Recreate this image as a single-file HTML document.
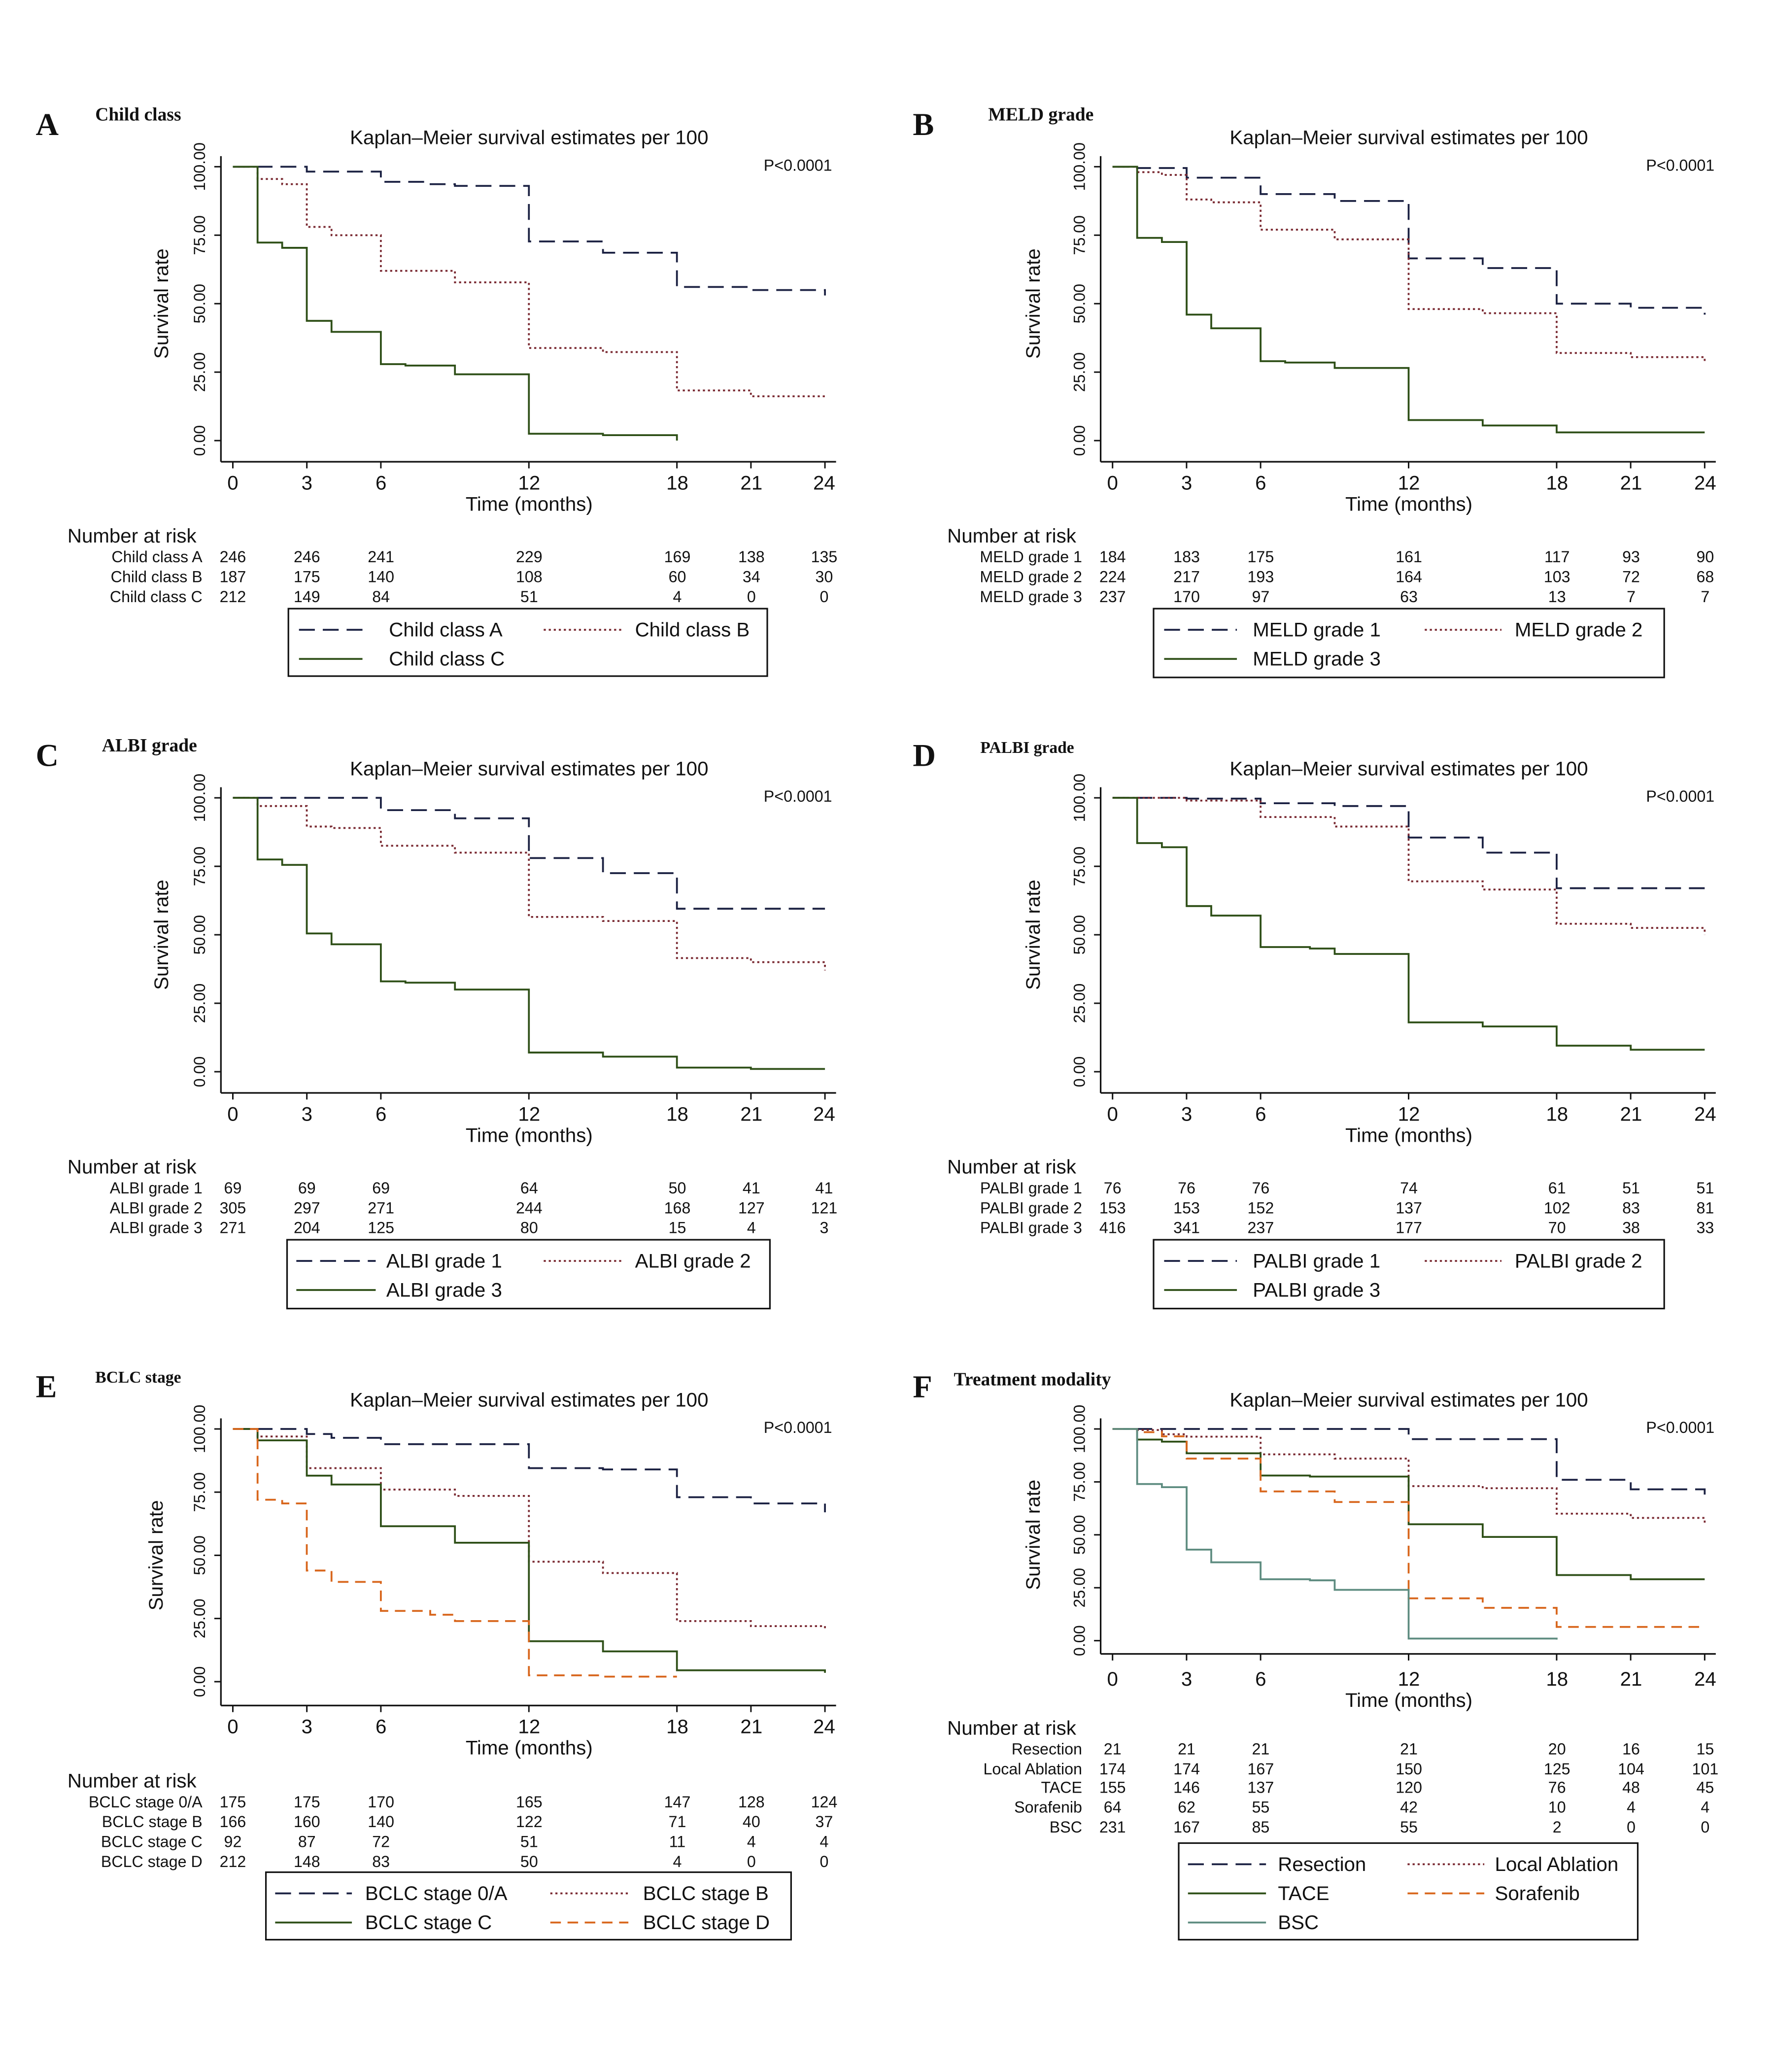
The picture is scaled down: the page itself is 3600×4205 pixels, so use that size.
<!DOCTYPE html>
<html><head><meta charset="utf-8"><style>
html,body{margin:0;padding:0;background:#fff}
svg{display:block}
text{font-family:"Liberation Sans",Arial,sans-serif;fill:#111}
.t{font-size:15px}
.s{font-size:12px}
.n{font-size:12px;text-anchor:middle}
.r{font-size:12px;text-anchor:end}
.m{text-anchor:middle}
.L{font-family:"Liberation Serif",serif;font-weight:bold;font-size:24px}
.H{font-family:"Liberation Serif",serif;font-weight:bold;font-size:14px}
</style></head><body>
<svg id="sv" width="3600" height="4205" viewBox="0 0 1341 1566" preserveAspectRatio="none" xmlns="http://www.w3.org/2000/svg">
<rect width="1341" height="1566" fill="#fff"/>
<g id="g"></g>
<!-- headings -->
<text class="L" x="27" y="102">A</text><text class="H" x="72" y="91">Child class</text>
<text class="L" x="690" y="102">B</text><text class="H" x="747" y="91">MELD grade</text>
<text class="L" x="27" y="579">C</text><text class="H" x="77" y="568">ALBI grade</text>
<text class="L" x="690" y="579">D</text><text class="H" x="741" y="569" style="font-size:12.5px">PALBI grade</text>
<text class="L" x="27" y="1056">E</text><text class="H" x="72" y="1045" style="font-size:12.5px">BCLC stage</text>
<text class="L" x="690" y="1056">F</text><text class="H" x="721" y="1047">Treatment modality</text>

<!-- Panel A -->
<text class="t m" x="400" y="109">Kaplan–Meier survival estimates per 100</text>
<text class="s" x="629" y="129" text-anchor="end">P&lt;0.0001</text>
<text class="s m" transform="translate(155,126) rotate(-90)">100.00</text>
<text class="s m" transform="translate(155,177.75) rotate(-90)">75.00</text>
<text class="s m" transform="translate(155,229.5) rotate(-90)">50.00</text>
<text class="s m" transform="translate(155,281.25) rotate(-90)">25.00</text>
<text class="s m" transform="translate(155,333) rotate(-90)">0.00</text>
<text class="t m" transform="translate(127,229.5) rotate(-90)">Survival rate</text>
<g class="t m"><text class="t m" x="176" y="370">0</text><text class="t m" x="232" y="370">3</text><text class="t m" x="288" y="370">6</text><text class="t m" x="400" y="370">12</text><text class="t m" x="512" y="370">18</text><text class="t m" x="568" y="370">21</text><text class="t m" x="623" y="370">24</text></g>
<text class="t m" x="400" y="386">Time (months)</text>
<text class="t" x="51" y="410">Number at risk</text>
<text class="r" x="153" y="425">Child class A</text><text class="r" x="153" y="440">Child class B</text><text class="r" x="153" y="455">Child class C</text>

<!-- Panel B -->
<text class="t m" x="1065" y="109">Kaplan–Meier survival estimates per 100</text>
<text class="s" x="1296" y="129" text-anchor="end">P&lt;0.0001</text>
<text class="s m" transform="translate(820,126) rotate(-90)">100.00</text>
<text class="s m" transform="translate(820,177.75) rotate(-90)">75.00</text>
<text class="s m" transform="translate(820,229.5) rotate(-90)">50.00</text>
<text class="s m" transform="translate(820,281.25) rotate(-90)">25.00</text>
<text class="s m" transform="translate(820,333) rotate(-90)">0.00</text>
<text class="t m" transform="translate(786,229.5) rotate(-90)">Survival rate</text>
<text class="t m" x="841" y="370">0</text><text class="t m" x="897" y="370">3</text><text class="t m" x="953" y="370">6</text><text class="t m" x="1065" y="370">12</text><text class="t m" x="1177" y="370">18</text><text class="t m" x="1233" y="370">21</text><text class="t m" x="1289" y="370">24</text>
<text class="t m" x="1065" y="386">Time (months)</text>
<text class="t" x="716" y="410">Number at risk</text>
<text class="r" x="818" y="425">MELD grade 1</text><text class="r" x="818" y="440">MELD grade 2</text><text class="r" x="818" y="455">MELD grade 3</text>

<!-- Panel C -->
<text class="t m" x="400" y="586">Kaplan–Meier survival estimates per 100</text>
<text class="s" x="629" y="606" text-anchor="end">P&lt;0.0001</text>
<text class="s m" transform="translate(155,603) rotate(-90)">100.00</text>
<text class="s m" transform="translate(155,654.75) rotate(-90)">75.00</text>
<text class="s m" transform="translate(155,706.5) rotate(-90)">50.00</text>
<text class="s m" transform="translate(155,758.25) rotate(-90)">25.00</text>
<text class="s m" transform="translate(155,810) rotate(-90)">0.00</text>
<text class="t m" transform="translate(127,706.5) rotate(-90)">Survival rate</text>
<text class="t m" x="176" y="847">0</text><text class="t m" x="232" y="847">3</text><text class="t m" x="288" y="847">6</text><text class="t m" x="400" y="847">12</text><text class="t m" x="512" y="847">18</text><text class="t m" x="568" y="847">21</text><text class="t m" x="623" y="847">24</text>
<text class="t m" x="400" y="863">Time (months)</text>
<text class="t" x="51" y="887">Number at risk</text>
<text class="r" x="153" y="902">ALBI grade 1</text><text class="r" x="153" y="917">ALBI grade 2</text><text class="r" x="153" y="932">ALBI grade 3</text>

<!-- Panel D -->
<text class="t m" x="1065" y="586">Kaplan–Meier survival estimates per 100</text>
<text class="s" x="1296" y="606" text-anchor="end">P&lt;0.0001</text>
<text class="s m" transform="translate(820,603) rotate(-90)">100.00</text>
<text class="s m" transform="translate(820,654.75) rotate(-90)">75.00</text>
<text class="s m" transform="translate(820,706.5) rotate(-90)">50.00</text>
<text class="s m" transform="translate(820,758.25) rotate(-90)">25.00</text>
<text class="s m" transform="translate(820,810) rotate(-90)">0.00</text>
<text class="t m" transform="translate(786,706.5) rotate(-90)">Survival rate</text>
<text class="t m" x="841" y="847">0</text><text class="t m" x="897" y="847">3</text><text class="t m" x="953" y="847">6</text><text class="t m" x="1065" y="847">12</text><text class="t m" x="1177" y="847">18</text><text class="t m" x="1233" y="847">21</text><text class="t m" x="1289" y="847">24</text>
<text class="t m" x="1065" y="863">Time (months)</text>
<text class="t" x="716" y="887">Number at risk</text>
<text class="r" x="818" y="902">PALBI grade 1</text><text class="r" x="818" y="917">PALBI grade 2</text><text class="r" x="818" y="932">PALBI grade 3</text>

<!-- Panel E -->
<text class="t m" x="400" y="1063">Kaplan–Meier survival estimates per 100</text>
<text class="s" x="629" y="1083" text-anchor="end">P&lt;0.0001</text>
<text class="s m" transform="translate(155,1080) rotate(-90)">100.00</text>
<text class="s m" transform="translate(155,1127.75) rotate(-90)">75.00</text>
<text class="s m" transform="translate(155,1175.5) rotate(-90)">50.00</text>
<text class="s m" transform="translate(155,1223.25) rotate(-90)">25.00</text>
<text class="s m" transform="translate(155,1271) rotate(-90)">0.00</text>
<text class="t m" transform="translate(123,1175.5) rotate(-90)">Survival rate</text>
<text class="t m" x="176" y="1310">0</text><text class="t m" x="232" y="1310">3</text><text class="t m" x="288" y="1310">6</text><text class="t m" x="400" y="1310">12</text><text class="t m" x="512" y="1310">18</text><text class="t m" x="568" y="1310">21</text><text class="t m" x="623" y="1310">24</text>
<text class="t m" x="400" y="1326">Time (months)</text>
<text class="t" x="51" y="1351">Number at risk</text>
<text class="r" x="153" y="1366">BCLC stage 0/A</text><text class="r" x="153" y="1381">BCLC stage B</text><text class="r" x="153" y="1396">BCLC stage C</text><text class="r" x="153" y="1411">BCLC stage D</text>

<!-- Panel F -->
<text class="t m" x="1065" y="1063">Kaplan–Meier survival estimates per 100</text>
<text class="s" x="1296" y="1083" text-anchor="end">P&lt;0.0001</text>
<text class="s m" transform="translate(820,1080) rotate(-90)">100.00</text>
<text class="s m" transform="translate(820,1120) rotate(-90)">75.00</text>
<text class="s m" transform="translate(820,1160) rotate(-90)">50.00</text>
<text class="s m" transform="translate(820,1200) rotate(-90)">25.00</text>
<text class="s m" transform="translate(820,1240) rotate(-90)">0.00</text>
<text class="t m" transform="translate(786,1160) rotate(-90)">Survival rate</text>
<text class="t m" x="841" y="1274">0</text><text class="t m" x="897" y="1274">3</text><text class="t m" x="953" y="1274">6</text><text class="t m" x="1065" y="1274">12</text><text class="t m" x="1177" y="1274">18</text><text class="t m" x="1233" y="1274">21</text><text class="t m" x="1289" y="1274">24</text>
<text class="t m" x="1065" y="1290">Time (months)</text>
<text class="t" x="716" y="1311">Number at risk</text>
<text class="r" x="818" y="1326">Resection</text><text class="r" x="818" y="1341">Local Ablation</text><text class="r" x="818" y="1355">TACE</text><text class="r" x="818" y="1370">Sorafenib</text><text class="r" x="818" y="1385">BSC</text>

<!-- risk numbers A -->
<g>
<text class="n" x="176" y="425">246</text><text class="n" x="232" y="425">246</text><text class="n" x="288" y="425">241</text><text class="n" x="400" y="425">229</text><text class="n" x="512" y="425">169</text><text class="n" x="568" y="425">138</text><text class="n" x="623" y="425">135</text>
<text class="n" x="176" y="440">187</text><text class="n" x="232" y="440">175</text><text class="n" x="288" y="440">140</text><text class="n" x="400" y="440">108</text><text class="n" x="512" y="440">60</text><text class="n" x="568" y="440">34</text><text class="n" x="623" y="440">30</text>
<text class="n" x="176" y="455">212</text><text class="n" x="232" y="455">149</text><text class="n" x="288" y="455">84</text><text class="n" x="400" y="455">51</text><text class="n" x="512" y="455">4</text><text class="n" x="568" y="455">0</text><text class="n" x="623" y="455">0</text>
</g>
<!-- B -->
<g>
<text class="n" x="841" y="425">184</text><text class="n" x="897" y="425">183</text><text class="n" x="953" y="425">175</text><text class="n" x="1065" y="425">161</text><text class="n" x="1177" y="425">117</text><text class="n" x="1233" y="425">93</text><text class="n" x="1289" y="425">90</text>
<text class="n" x="841" y="440">224</text><text class="n" x="897" y="440">217</text><text class="n" x="953" y="440">193</text><text class="n" x="1065" y="440">164</text><text class="n" x="1177" y="440">103</text><text class="n" x="1233" y="440">72</text><text class="n" x="1289" y="440">68</text>
<text class="n" x="841" y="455">237</text><text class="n" x="897" y="455">170</text><text class="n" x="953" y="455">97</text><text class="n" x="1065" y="455">63</text><text class="n" x="1177" y="455">13</text><text class="n" x="1233" y="455">7</text><text class="n" x="1289" y="455">7</text>
</g>
<!-- C -->
<g>
<text class="n" x="176" y="902">69</text><text class="n" x="232" y="902">69</text><text class="n" x="288" y="902">69</text><text class="n" x="400" y="902">64</text><text class="n" x="512" y="902">50</text><text class="n" x="568" y="902">41</text><text class="n" x="623" y="902">41</text>
<text class="n" x="176" y="917">305</text><text class="n" x="232" y="917">297</text><text class="n" x="288" y="917">271</text><text class="n" x="400" y="917">244</text><text class="n" x="512" y="917">168</text><text class="n" x="568" y="917">127</text><text class="n" x="623" y="917">121</text>
<text class="n" x="176" y="932">271</text><text class="n" x="232" y="932">204</text><text class="n" x="288" y="932">125</text><text class="n" x="400" y="932">80</text><text class="n" x="512" y="932">15</text><text class="n" x="568" y="932">4</text><text class="n" x="623" y="932">3</text>
</g>
<!-- D -->
<g>
<text class="n" x="841" y="902">76</text><text class="n" x="897" y="902">76</text><text class="n" x="953" y="902">76</text><text class="n" x="1065" y="902">74</text><text class="n" x="1177" y="902">61</text><text class="n" x="1233" y="902">51</text><text class="n" x="1289" y="902">51</text>
<text class="n" x="841" y="917">153</text><text class="n" x="897" y="917">153</text><text class="n" x="953" y="917">152</text><text class="n" x="1065" y="917">137</text><text class="n" x="1177" y="917">102</text><text class="n" x="1233" y="917">83</text><text class="n" x="1289" y="917">81</text>
<text class="n" x="841" y="932">416</text><text class="n" x="897" y="932">341</text><text class="n" x="953" y="932">237</text><text class="n" x="1065" y="932">177</text><text class="n" x="1177" y="932">70</text><text class="n" x="1233" y="932">38</text><text class="n" x="1289" y="932">33</text>
</g>
<!-- E -->
<g>
<text class="n" x="176" y="1366">175</text><text class="n" x="232" y="1366">175</text><text class="n" x="288" y="1366">170</text><text class="n" x="400" y="1366">165</text><text class="n" x="512" y="1366">147</text><text class="n" x="568" y="1366">128</text><text class="n" x="623" y="1366">124</text>
<text class="n" x="176" y="1381">166</text><text class="n" x="232" y="1381">160</text><text class="n" x="288" y="1381">140</text><text class="n" x="400" y="1381">122</text><text class="n" x="512" y="1381">71</text><text class="n" x="568" y="1381">40</text><text class="n" x="623" y="1381">37</text>
<text class="n" x="176" y="1396">92</text><text class="n" x="232" y="1396">87</text><text class="n" x="288" y="1396">72</text><text class="n" x="400" y="1396">51</text><text class="n" x="512" y="1396">11</text><text class="n" x="568" y="1396">4</text><text class="n" x="623" y="1396">4</text>
<text class="n" x="176" y="1411">212</text><text class="n" x="232" y="1411">148</text><text class="n" x="288" y="1411">83</text><text class="n" x="400" y="1411">50</text><text class="n" x="512" y="1411">4</text><text class="n" x="568" y="1411">0</text><text class="n" x="623" y="1411">0</text>
</g>
<!-- F -->
<g>
<text class="n" x="841" y="1326">21</text><text class="n" x="897" y="1326">21</text><text class="n" x="953" y="1326">21</text><text class="n" x="1065" y="1326">21</text><text class="n" x="1177" y="1326">20</text><text class="n" x="1233" y="1326">16</text><text class="n" x="1289" y="1326">15</text>
<text class="n" x="841" y="1341">174</text><text class="n" x="897" y="1341">174</text><text class="n" x="953" y="1341">167</text><text class="n" x="1065" y="1341">150</text><text class="n" x="1177" y="1341">125</text><text class="n" x="1233" y="1341">104</text><text class="n" x="1289" y="1341">101</text>
<text class="n" x="841" y="1355">155</text><text class="n" x="897" y="1355">146</text><text class="n" x="953" y="1355">137</text><text class="n" x="1065" y="1355">120</text><text class="n" x="1177" y="1355">76</text><text class="n" x="1233" y="1355">48</text><text class="n" x="1289" y="1355">45</text>
<text class="n" x="841" y="1370">64</text><text class="n" x="897" y="1370">62</text><text class="n" x="953" y="1370">55</text><text class="n" x="1065" y="1370">42</text><text class="n" x="1177" y="1370">10</text><text class="n" x="1233" y="1370">4</text><text class="n" x="1289" y="1370">4</text>
<text class="n" x="841" y="1385">231</text><text class="n" x="897" y="1385">167</text><text class="n" x="953" y="1385">85</text><text class="n" x="1065" y="1385">55</text><text class="n" x="1177" y="1385">2</text><text class="n" x="1233" y="1385">0</text><text class="n" x="1289" y="1385">0</text>
</g>

<!-- legends -->
<g fill="none" stroke="#111" stroke-width="1.2">
<rect x="218" y="460" width="362" height="51"/>
<rect x="872" y="460" width="386" height="52"/>
<rect x="217" y="937" width="365" height="52"/>
<rect x="872" y="937" width="386" height="52"/>
<rect x="201" y="1415" width="397" height="51"/>
<rect x="891" y="1393" width="347" height="73"/>
</g>
<g class="t">
<text class="t" x="294" y="481">Child class A</text><text class="t" x="480" y="481">Child class B</text><text class="t" x="294" y="503">Child class C</text>
<text class="t" x="947" y="481">MELD grade 1</text><text class="t" x="1145" y="481">MELD grade 2</text><text class="t" x="947" y="503">MELD grade 3</text>
<text class="t" x="292" y="958">ALBI grade 1</text><text class="t" x="480" y="958">ALBI grade 2</text><text class="t" x="292" y="980">ALBI grade 3</text>
<text class="t" x="947" y="958">PALBI grade 1</text><text class="t" x="1145" y="958">PALBI grade 2</text><text class="t" x="947" y="980">PALBI grade 3</text>
<text class="t" x="276" y="1436">BCLC stage 0/A</text><text class="t" x="486" y="1436">BCLC stage B</text><text class="t" x="276" y="1458">BCLC stage C</text><text class="t" x="486" y="1458">BCLC stage D</text>
<text class="t" x="966" y="1414">Resection</text><text class="t" x="1130" y="1414">Local Ablation</text><text class="t" x="966" y="1436">TACE</text><text class="t" x="1130" y="1436">Sorafenib</text><text class="t" x="966" y="1458">BSC</text>
</g>
</svg>
<script>
var NS="http://www.w3.org/2000/svg",G=document.getElementById("g");
function el(t,a){var e=document.createElementNS(NS,t);for(var k in a)e.setAttribute(k,a[k]);G.appendChild(e);return e;}
var ST={
 nv:{stroke:"#1b2142",da:"12 6"},
 dt:{stroke:"#7a2a32",da:"1.6 2.2"},
 gr:{stroke:"#2e4f17",da:""},
 or:{stroke:"#d8661c",da:"8 5"},
 bs:{stroke:"#5e8c80",da:""}
};
function line(x1,y1,x2,y2,s){var a={x1:x1,y1:y1,x2:x2,y2:y2,stroke:ST[s].stroke,"stroke-width":1.4};if(ST[s].da)a["stroke-dasharray"]=ST[s].da;el("line",a);}
function panel(P,series){
 var xs=18.65,yax=P.x0-9;
 el("line",{x1:yax,y1:P.y100-8,x2:yax,y2:P.ax,stroke:"#111","stroke-width":1.2});
 el("line",{x1:yax,y1:P.ax,x2:P.x0+456,y2:P.ax,stroke:"#111","stroke-width":1.2});
 for(var i=0;i<=4;i++){var y=P.y0-(P.y0-P.y100)*i/4;el("line",{x1:yax-5,y1:y,x2:yax,y2:y,stroke:"#111","stroke-width":1.1});}
 [0,3,6,12,18,21,24].forEach(function(m){var x=P.x0+m*xs;el("line",{x1:x,y1:P.ax,x2:x,y2:P.ax+5,stroke:"#111","stroke-width":1.1});});
 var py=function(p){return P.y0-(P.y0-P.y100)*p/100;};
 series.forEach(function(s){
   var d=s.d,st=s.s,pts="M"+P.x0+" "+py(100);
   for(var i=0;i<d.length;i++){var x=P.x0+d[i][0]*xs;pts+=" H"+x.toFixed(1)+" V"+py(d[i][1]).toFixed(1);}
   pts+=" H"+(P.x0+s.end*xs).toFixed(1);
   if(s.tail!=null)pts+=" V"+py(s.tail).toFixed(1);
   var a={d:pts,fill:"none",stroke:ST[st].stroke,"stroke-width":1.4};if(ST[st].da)a["stroke-dasharray"]=ST[st].da;
   el("path",a);
 });
}
var A={x0:176,y100:126,y0:333,ax:349},B={x0:841,y100:126,y0:333,ax:349},
C={x0:176,y100:603,y0:810,ax:826},D={x0:841,y100:603,y0:810,ax:826},
E={x0:176,y100:1080,y0:1271,ax:1289},F={x0:841,y100:1080,y0:1240,ax:1250};
panel(A,[
 {s:"nv",d:[[3,98.2],[6,94.5],[7.9,93.6],[9,93],[12,72.7],[15,68.6],[18,56.1],[21,55]],end:24,tail:53},
 {s:"dt",d:[[1,95.5],[2,93.6],[3,78],[4,75],[6,62],[9,57.8],[12,33.8],[15,32.3],[18,18.3],[21,16.2]],end:24},
 {s:"gr",d:[[1,72.3],[2,70.4],[3,43.7],[4,39.7],[6,27.9],[7,27.4],[9,24.2],[12,2.5],[15,2]],end:18,tail:0}
]);
panel(B,[
 {s:"nv",d:[[1,99.5],[3,96],[6,90],[9,87.5],[12,66.5],[15,63],[18,50],[21,48.5]],end:24,tail:46},
 {s:"dt",d:[[1,98],[2,97],[3,88],[4,87],[6,77],[9,73.5],[12,48],[15,46.5],[18,32],[21,30.5]],end:24,tail:29},
 {s:"gr",d:[[1,74],[2,72.5],[3,46],[4,41],[6,29],[7,28.5],[9,26.5],[12,7.5],[15,5.5],[18,3]],end:24}
]);
panel(C,[
 {s:"nv",d:[[6,95.5],[9,92.5],[12,78],[15,72.5],[18,59.5]],end:24},
 {s:"dt",d:[[1,97],[3,89.5],[4,89],[6,82.5],[9,80],[12,56.5],[15,55],[18,41.5],[21,40]],end:24,tail:37},
 {s:"gr",d:[[1,77.5],[2,75.5],[3,50.5],[4,46.5],[6,33],[7,32.5],[9,30],[12,7],[15,5.5],[18,1.5],[21,1]],end:24}
]);
panel(D,[
 {s:"nv",d:[[3,99.7],[6,98],[9,97],[12,85.5],[15,80],[18,67]],end:24},
 {s:"dt",d:[[3,99],[6,93],[9,89.5],[12,69.5],[15,66.5],[18,54],[21,52.5]],end:24,tail:50},
 {s:"gr",d:[[1,83.5],[2,82],[3,60.5],[4,57],[6,45.5],[8,45],[9,43],[12,18],[15,16.5],[18,9.5],[21,8]],end:24}
]);
panel(E,[
 {s:"nv",d:[[3,98],[4,96.5],[6,94],[12,84.5],[15,84],[18,73],[21,70.5]],end:24,tail:67},
 {s:"dt",d:[[1,97],[3,84.5],[6,76],[9,73.5],[12,47.5],[15,43],[18,24],[21,22]],end:24,tail:21},
 {s:"gr",d:[[1,95.5],[3,81.5],[4,78],[6,61.5],[9,55],[12,16],[15,12],[18,4.5]],end:24,tail:3.5},
 {s:"or",d:[[1,72],[2,70.5],[3,44],[4,39.5],[6,28],[8,26.5],[9,24],[12,2.5],[15,2]],end:18}
]);
panel(F,[
 {s:"nv",d:[[12,95.2],[18,76],[21,71.5]],end:24,tail:69},
 {s:"dt",d:[[1,99.5],[2,97.5],[3,96.4],[6,88],[9,86],[12,73],[15,72],[18,60],[21,58]],end:24,tail:55},
 {s:"gr",d:[[1,95],[2,94],[3,88.5],[6,78],[8,77.5],[12,55],[15,49],[18,31],[21,29]],end:24},
 {s:"or",d:[[1,98.5],[2,96.5],[3,86],[6,70.5],[9,65.5],[12,20],[15,15.5],[18,6.5]],end:24},
 {s:"bs",d:[[1,74],[2,72.5],[3,43],[4,37],[6,29],[8,28.5],[9,24],[12,1]],end:18,tail:0.5}
]);
[[226,274,476,"nv"],[411,470,476,"dt"],[226,274,498,"gr"],
 [880,935,476,"nv"],[1077,1135,476,"dt"],[880,935,498,"gr"],
 [224,284,953,"nv"],[411,470,953,"dt"],[224,284,975,"gr"],
 [880,935,953,"nv"],[1077,1135,953,"dt"],[880,935,975,"gr"],
 [208,266,1431,"nv"],[416,475,1431,"dt"],[208,266,1453,"gr"],[416,475,1453,"or"],
 [898,957,1409,"nv"],[1064,1122,1409,"dt"],[898,957,1431,"gr"],[1064,1122,1431,"or"],[898,957,1453,"bs"]
].forEach(function(l){line(l[0],l[2],l[1],l[2],l[3]);});
</script>
</body></html>
